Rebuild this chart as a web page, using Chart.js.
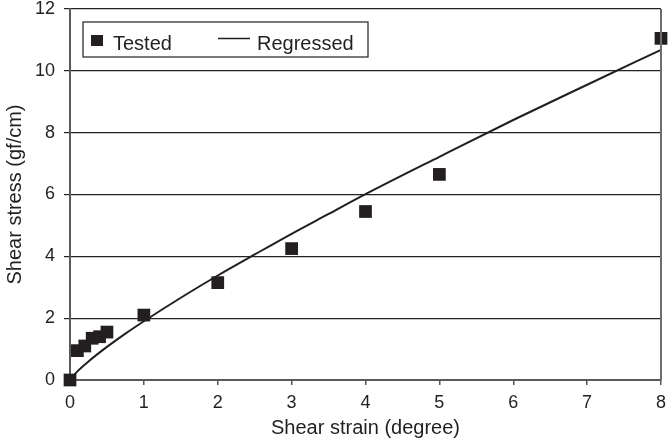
<!DOCTYPE html>
<html>
<head>
<meta charset="utf-8">
<script src="https://cdn.jsdelivr.net/npm/chart.js@4.4.1/dist/chart.umd.min.js"></script>
<style>
  html, body { margin: 0; padding: 0; background: #fff; }
  #wrap { width: 670px; height: 443px; }
</style>
</head>
<body>
<div id="wrap"><canvas id="shearChart"></canvas></div>
<script>
// Valeurs
const testedStrain = [0, 0.1, 0.2, 0.3, 0.4, 0.5, 1, 2, 3, 4, 5, 8];
const testedStress = [0, 0.95, 1.1, 1.35, 1.4, 1.55, 2.1, 3.15, 4.25, 5.45, 6.65, 11.05];

const regStrain = [0, 0.1, 0.25, 0.5, 0.75, 1, 1.5, 2, 2.5, 3, 3.5, 4, 5, 6, 7, 8];
const regStress = [0, 0.28, 0.6, 1.07, 1.5, 1.9, 2.66, 3.38, 4.06, 4.73, 5.37, 6.01, 7.22, 8.41, 9.55, 10.68];

const yTicks = [0, 2, 4, 6, 8, 10, 12];
const xTicks = [0, 1, 2, 3, 4, 5, 6, 7, 8];

const ink = '#231f20';
const fontFamily = 'Arial, "Liberation Sans", sans-serif';

// Légende encadrée dans la zone du graphique + bord droit
const frameLegend = {
    id: 'frameLegend',
    afterDraw(chart) {
        const ctx = chart.ctx;
        const area = chart.chartArea;
        ctx.save();
        // bord droit
        ctx.strokeStyle = '#6d6d6d';
        ctx.lineWidth = 2;
        ctx.beginPath();
        ctx.moveTo(area.right, area.top);
        ctx.lineTo(area.right, area.bottom);
        ctx.stroke();

        const bx = area.left + 13, by = area.top + 13;
        ctx.fillStyle = '#fff';
        ctx.fillRect(bx, by, 285, 35);
        ctx.strokeStyle = ink;
        ctx.lineWidth = 1.2;
        ctx.strokeRect(bx, by, 285, 35);

        ctx.fillStyle = ink;
        ctx.fillRect(bx + 8, by + 13, 12, 11);
        ctx.font = '20px ' + fontFamily;
        ctx.textBaseline = 'alphabetic';
        ctx.fillText(chart.data.datasets[0].label, bx + 30, by + 21 + 7);

        ctx.lineWidth = 1.5;
        ctx.beginPath();
        ctx.moveTo(bx + 135, by + 16.5);
        ctx.lineTo(bx + 167, by + 16.5);
        ctx.stroke();
        ctx.fillText(chart.data.datasets[1].label, bx + 174, by + 28);
        ctx.restore();
    }
};

const ctx = document.getElementById('shearChart').getContext('2d');
const shearChart = new Chart(ctx, {
    type: 'scatter',
    data: {
        datasets: [{
            label: 'Tested',
            data: testedStrain.map((x, i) => ({ x: x, y: testedStress[i] })),
            pointStyle: 'rect',
            pointRadius: 9,
            pointHoverRadius: 9,
            backgroundColor: ink,
            borderColor: ink,
            borderWidth: 0,
            clip: false
        }, {
            type: 'line',
            label: 'Regressed',
            data: regStrain.map((x, i) => ({ x: x, y: regStress[i] })),
            borderColor: ink,
            borderWidth: 2,
            pointRadius: 0,
            fill: false,
            cubicInterpolationMode: 'monotone'
        }]
    },
    options: {
        responsive: true,
        maintainAspectRatio: false,
        animation: false,
        layout: { padding: { left: 0, right: 7, top: 9, bottom: 0 } },
        plugins: {
            legend: { display: false },
            tooltip: { enabled: false }
        },
        scales: {
            x: {
                type: 'linear',
                min: 0,
                max: 8,
                afterBuildTicks: s => { s.ticks = xTicks.map(v => ({ value: v })); },
                afterFit: s => { s.height = 63; s.paddingLeft = 0; s.paddingRight = 0; },
                ticks: { color: ink, padding: 7, font: { family: fontFamily, size: 18 } },
                grid: { drawOnChartArea: false, tickLength: 5, color: '#555', lineWidth: 1.5 },
                border: { color: '#5a5a5a', width: 2 },
                title: {
                    display: true,
                    text: 'Shear strain (degree)',
                    color: ink,
                    font: { family: fontFamily, size: 20 },
                    padding: { top: 0, bottom: 3 }
                }
            },
            y: {
                min: 0,
                max: 12,
                afterBuildTicks: s => { s.ticks = yTicks.map(v => ({ value: v })); },
                afterFit: s => { s.width = 70; s.paddingTop = 0; s.paddingBottom = 0; },
                ticks: { color: ink, padding: 9, font: { family: fontFamily, size: 18 } },
                grid: { color: '#222', lineWidth: 1.2, tickLength: 6 },
                border: { color: '#5a5a5a', width: 2 },
                title: {
                    display: true,
                    text: 'Shear stress (gf/cm)',
                    color: ink,
                    font: { family: fontFamily, size: 20 },
                    padding: { top: 3, bottom: 0 }
                }
            }
        }
    },
    plugins: [frameLegend]
});
</script>
</body>
</html>
